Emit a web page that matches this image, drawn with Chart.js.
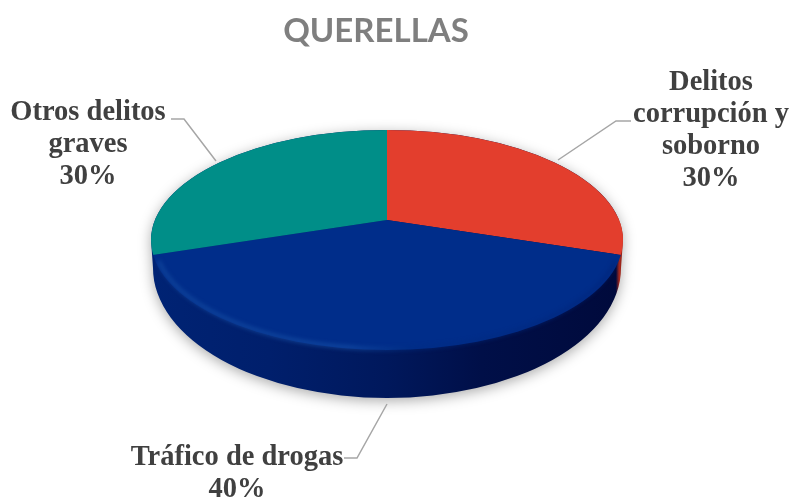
<!DOCTYPE html>
<html><head><meta charset="utf-8">
<style>html,body{margin:0;padding:0;background:#fff}canvas{display:block}</style>
<script src="https://cdn.jsdelivr.net/npm/chart.js@4"></script>
</head><body>
<canvas id="c" width="790" height="499"></canvas>
<script>
const chartTitle = 'QUERELLAS';
const categories = ['Delitos corrupción y soborno', 'Tráfico de drogas', 'Otros delitos graves'];
const values = [30, 40, 30];
const colors = ['#E33E2D', '#002D8A', '#008E88'];
const labelLines = [['Delitos', 'corrupción y', 'soborno'], ['Tráfico de drogas'], ['Otros delitos', 'graves']];

// Layout of the tilted disc
const RIM = {cx: 387, cy: 240, rx: 236, ry: 110};
const BASE = {cx: 387, cy: 268, rx: 234, ry: 130};
const APEX = {x: 387, y: 220, sx: 292, sy: 134};
const LABELS = [{x: 711, y: 83}, {x: 237, y: 458}, {x: 88, y: 113}];
const LEADERS = [
  [[631,121],[616,121],[558,160]],
  [[344,458],[357,458],[387,404]],
  [[171,119],[184,119],[216,161]]
];
const LINE_H = 32;

const discPlugin = {
  id: 'disc',
  beforeDatasetsDraw(chart) {
    const ctx = chart.ctx, a = chart.getDatasetMeta(0).data[0];
    const L = RIM.cx-RIM.rx, R = RIM.cx+RIM.rx;
    // side wall
    const g = ctx.createLinearGradient(L,0,R,0);
    g.addColorStop(0, '#002374');
    g.addColorStop(0.25, '#001F6C');
    g.addColorStop(0.5, '#00185C');
    g.addColorStop(0.7, '#000F48');
    g.addColorStop(0.985, '#000A3C');
    g.addColorStop(0.992, '#A82A1E');
    g.addColorStop(1, '#8A1E14');
    ctx.save();
    ctx.shadowColor = 'rgba(0,0,0,0.33)';
    ctx.shadowBlur = 13;
    ctx.shadowOffsetY = 3;
    ctx.fillStyle = g;
    ctx.beginPath();
    ctx.ellipse(BASE.cx, BASE.cy, BASE.rx, BASE.ry, 0, 0, Math.PI);
    ctx.lineTo(L, RIM.cy);
    ctx.ellipse(RIM.cx, RIM.cy, RIM.rx, RIM.ry, 0, Math.PI, Math.PI*2);
    ctx.closePath();
    ctx.fill();
    ctx.restore();
    // top face: the library's arcs, tilted and trimmed to the rim
    ctx.save();
    ctx.beginPath();
    ctx.ellipse(RIM.cx, RIM.cy, RIM.rx, RIM.ry, 0, 0, Math.PI*2);
    ctx.clip();
    ctx.translate(APEX.x, APEX.y);
    ctx.scale(APEX.sx/a.outerRadius, APEX.sy/a.outerRadius);
    ctx.translate(-a.x, -a.y);
  },
  afterDatasetsDraw(chart) {
    const ctx = chart.ctx;
    ctx.restore();
    const L = RIM.cx-RIM.rx, R = RIM.cx+RIM.rx;
    // bevel on the front rim
    const h = ctx.createLinearGradient(L,0,R,0);
    h.addColorStop(0, 'rgba(20,75,160,0.85)');
    h.addColorStop(0.42, 'rgba(25,85,170,0.8)');
    h.addColorStop(0.55, 'rgba(0,45,130,0.7)');
    h.addColorStop(1, 'rgba(0,35,120,0.8)');
    ctx.save();
    ctx.filter = 'blur(2px)';
    ctx.strokeStyle = h;
    ctx.lineWidth = 3;
    ctx.beginPath();
    ctx.ellipse(RIM.cx, RIM.cy-1, RIM.rx-3, RIM.ry, 0, 0.2, Math.PI-0.2);
    ctx.stroke();
    ctx.restore();
    // leaders and labels
    ctx.save();
    ctx.strokeStyle = '#A6A6A6';
    ctx.lineWidth = 1.5;
    LEADERS.forEach(p => {
      ctx.beginPath();
      p.forEach((q,i) => i ? ctx.lineTo(q[0],q[1]) : ctx.moveTo(q[0],q[1]));
      ctx.stroke();
    });
    ctx.fillStyle = '#404040';
    ctx.font = 'bold 28.5px "Liberation Serif"';
    ctx.textAlign = 'center';
    ctx.textBaseline = 'middle';
    labelLines.forEach((lines,i) => {
      const all = lines.concat(values[i] + '%');
      all.forEach((t,j) => ctx.fillText(t, LABELS[i].x, LABELS[i].y + j*LINE_H));
    });
    ctx.restore();
  }
};

new Chart(document.getElementById('c'), {
  type: 'pie',
  data: {labels: categories, datasets: [{data: values, backgroundColor: colors, borderWidth: 0}]},
  options: {
    responsive: false,
    animation: false,
    layout: {padding: {right: 38}},
    events: [],
    plugins: {
      legend: {display: false},
      tooltip: {enabled: false},
      title: {display: true, text: chartTitle, color: '#7F7F7F',
        font: {family: 'Lato', size: 33, weight: 'bold'}, padding: {top: 12, bottom: 10}}
    }
  },
  plugins: [discPlugin]
});
</script>
</body></html>
